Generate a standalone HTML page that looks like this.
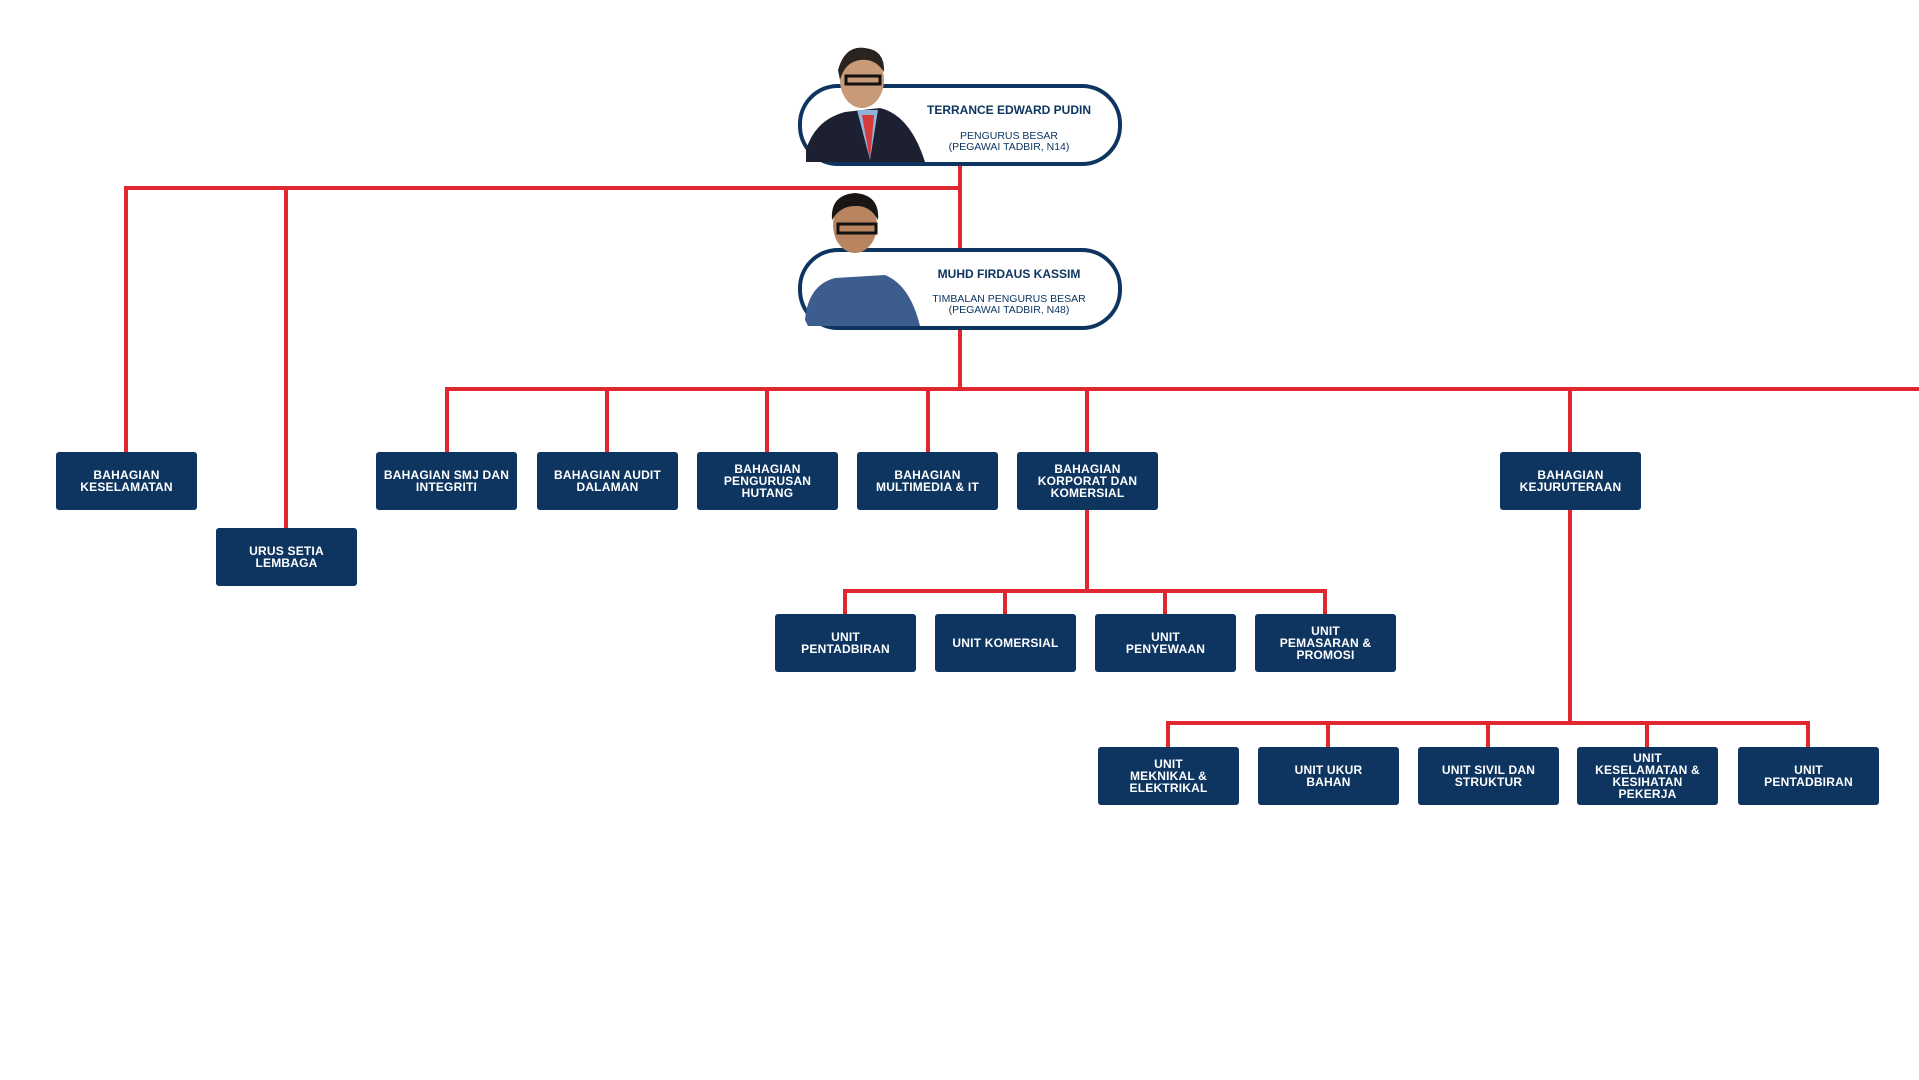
<!DOCTYPE html>
<html><head><meta charset="utf-8"><style>
html,body{margin:0;padding:0;background:#fff;}
body{width:1919px;height:1080px;position:relative;overflow:hidden;font-family:"Liberation Sans",sans-serif;}
.b{position:absolute;width:141px;height:58px;background:#0d3560;border-radius:3px;color:#fff;font-weight:bold;font-size:12px;line-height:12px;text-align:center;display:flex;align-items:center;justify-content:center;letter-spacing:0.2px;}
.pill{position:absolute;left:798px;width:316px;height:74px;border:4px solid #0d3560;border-radius:40px;background:#fff;}
.nm{position:absolute;left:898px;width:222px;text-align:center;color:#0d3560;font-weight:bold;font-size:12px;}
.tt{position:absolute;left:898px;width:222px;text-align:center;color:#0d3560;font-size:10.5px;line-height:10.5px;}
</style></head><body>
<svg width="1919" height="1080" style="position:absolute;left:0;top:0" fill="none" stroke="#e0262f" stroke-width="4">
<path d="M126 452V188H960"/>
<path d="M960 164V250"/>
<path d="M286 188V528"/>
<path d="M960 326V389"/>
<path d="M447 452V389H1919"/>
<path d="M607 389V452M767 389V452M928 389V452M1087 389V452M1570 389V452"/>
<path d="M1087 510V591M845 614V591H1325V614M1005 591V614M1165 591V614"/>
<path d="M1570 510V723M1168 747V723H1808V747M1328 723V747M1488 723V747M1647 723V747"/>
</svg>
<div class="pill" style="top:84px"></div>
<div class="pill" style="top:248px"></div>
<svg width="1919" height="1080" style="position:absolute;left:0;top:0">
<path d="M806 150 Q815 120 845 112 L880 108 Q910 115 925 162 L806 162Z" fill="#1c2030"/>
<path d="M857 110 L870 160 L878 110Z" fill="#8fb3d9"/>
<path d="M862 115 L870 160 L874 115Z" fill="#d63a3a"/>
<ellipse cx="862" cy="80" rx="22" ry="28" fill="#c99a78"/>
<path d="M838 70 Q845 45 865 48 Q885 50 884 72 Q875 58 860 60 Q845 62 840 80Z" fill="#2a2420"/>
<rect x="846" y="76" width="34" height="8" fill="none" stroke="#111" stroke-width="3"/>
<path d="M805 320 Q808 285 835 278 L885 275 Q910 285 920 326 L808 326Z" fill="#3d5d8f"/>
<ellipse cx="855" cy="225" rx="22" ry="28" fill="#b98560"/>
<path d="M832 220 Q830 195 855 193 Q880 195 878 220 Q870 205 855 206 Q840 206 832 220Z" fill="#1a1614"/>
<rect x="838" y="224" width="38" height="9" fill="none" stroke="#111" stroke-width="3"/>
</svg>
<div class="nm" style="top:103px">TERRANCE EDWARD PUDIN</div>
<div class="tt" style="top:131px">PENGURUS BESAR<br>(PEGAWAI TADBIR, N14)</div>
<div class="nm" style="top:267px">MUHD FIRDAUS KASSIM</div>
<div class="tt" style="top:294px">TIMBALAN PENGURUS BESAR<br>(PEGAWAI TADBIR, N48)</div>

<div class="b" style="left:56px;top:452px">BAHAGIAN<br>KESELAMATAN</div>
<div class="b" style="left:216px;top:528px">URUS SETIA<br>LEMBAGA</div>
<div class="b" style="left:376px;top:452px">BAHAGIAN SMJ DAN<br>INTEGRITI</div>
<div class="b" style="left:537px;top:452px">BAHAGIAN AUDIT<br>DALAMAN</div>
<div class="b" style="left:697px;top:452px">BAHAGIAN<br>PENGURUSAN<br>HUTANG</div>
<div class="b" style="left:857px;top:452px">BAHAGIAN<br>MULTIMEDIA &amp; IT</div>
<div class="b" style="left:1017px;top:452px">BAHAGIAN<br>KORPORAT DAN<br>KOMERSIAL</div>
<div class="b" style="left:1500px;top:452px">BAHAGIAN<br>KEJURUTERAAN</div>

<div class="b" style="left:775px;top:614px">UNIT<br>PENTADBIRAN</div>
<div class="b" style="left:935px;top:614px">UNIT KOMERSIAL</div>
<div class="b" style="left:1095px;top:614px">UNIT<br>PENYEWAAN</div>
<div class="b" style="left:1255px;top:614px">UNIT<br>PEMASARAN &amp;<br>PROMOSI</div>

<div class="b" style="left:1098px;top:747px">UNIT<br>MEKNIKAL &amp;<br>ELEKTRIKAL</div>
<div class="b" style="left:1258px;top:747px">UNIT UKUR<br>BAHAN</div>
<div class="b" style="left:1418px;top:747px">UNIT SIVIL DAN<br>STRUKTUR</div>
<div class="b" style="left:1577px;top:747px">UNIT<br>KESELAMATAN &amp;<br>KESIHATAN<br>PEKERJA</div>
<div class="b" style="left:1738px;top:747px">UNIT<br>PENTADBIRAN</div>
</body></html>
